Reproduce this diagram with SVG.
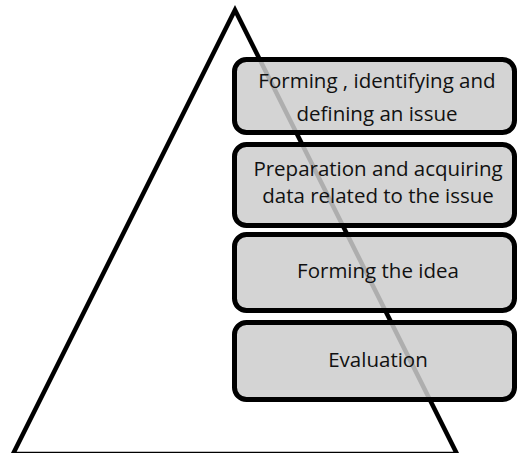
<svg xmlns="http://www.w3.org/2000/svg" width="518" height="453" viewBox="0 0 518 453">
  <style>
    .step rect { fill: #cdcdcd; fill-opacity: 0.85; stroke: #000; stroke-width: 5; }
    .step text { font-family: "Open Sans", "Liberation Sans", sans-serif; font-size: 20.5px; fill: #111; text-anchor: middle; }
    .pyramid { fill: none; stroke: #000; stroke-width: 4.5; stroke-linejoin: miter; }
  </style>
  <rect width="518" height="453" fill="#fff"/>

  <!-- pyramid outline, drawn first so the steps sit on top of it -->
  <g id="pyramid">
    <polygon class="pyramid" points="235,10 13,454 457,454"/>
  </g>

  <!-- process steps -->
  <g id="step1" class="step">
    <rect x="234.5" y="59.5" width="280" height="73" rx="12"/>
    <text x="377" y="88">Forming , identifying and</text>
    <text x="377" y="121">defining an issue</text>
  </g>
  <g id="step2" class="step">
    <rect x="234.5" y="144.5" width="280" height="81" rx="12"/>
    <text x="378" y="176">Preparation and acquiring</text>
    <text x="378" y="203">data related to the issue</text>
  </g>
  <g id="step3" class="step">
    <rect x="234.5" y="234.5" width="280" height="76" rx="12"/>
    <text x="378" y="278">Forming the idea</text>
  </g>
  <g id="step4" class="step">
    <rect x="234.5" y="322.5" width="280" height="77" rx="12"/>
    <text x="378" y="367">Evaluation</text>
  </g>
</svg>
